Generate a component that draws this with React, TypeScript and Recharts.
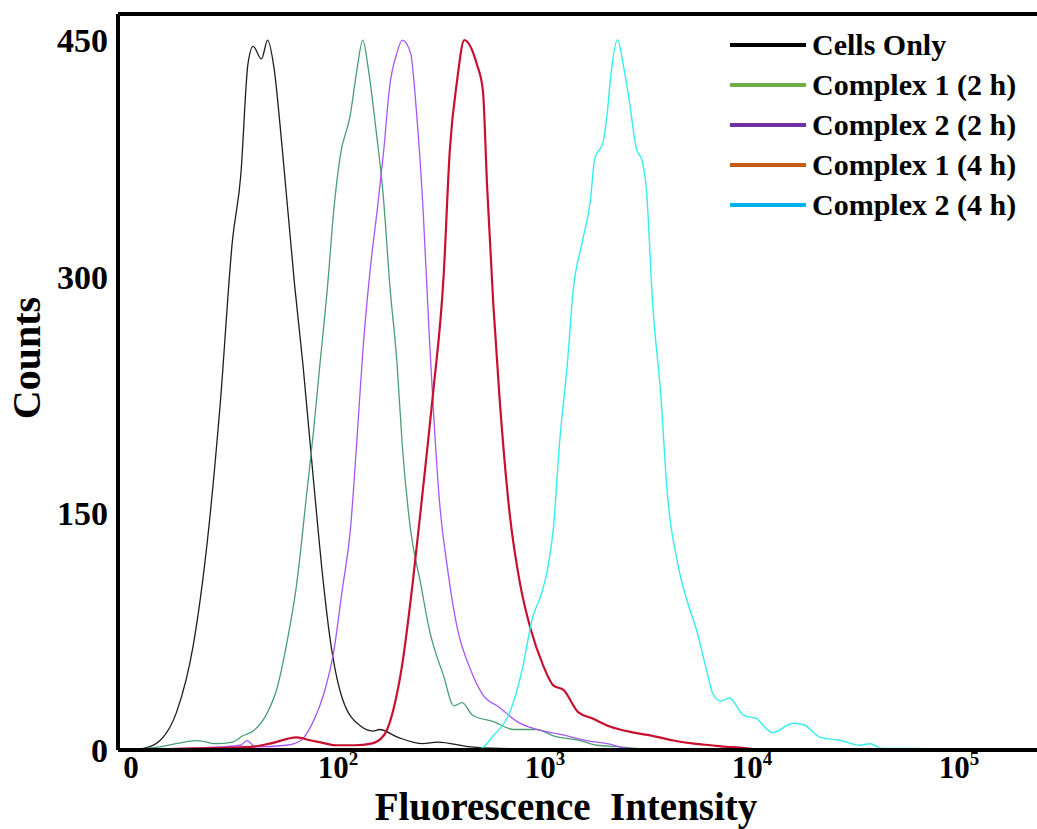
import { LineChart, Line, XAxis, YAxis, Legend, ReferenceLine } from 'recharts'

// x = position on the biexponential axis (1 = "0", 2 = 10^2, 3 = 10^3 ...), y = counts
const cellsOnly: [number, number][] = [
  [0.98, 0], [1.06, 1], [1.14, 6], [1.22, 24], [1.3, 66], [1.37, 134], [1.43, 218], [1.49, 323],
  [1.53, 364], [1.565, 435], [1.59, 446], [1.63, 438], [1.66, 450], [1.69, 433], [1.73, 382],
  [1.79, 295], [1.83, 245], [1.88, 173], [1.93, 105], [1.96, 72], [2.02, 33], [2.11, 15],
  [2.17, 12], [2.2, 13], [2.29, 8], [2.41, 4], [2.48, 5], [2.64, 2], [2.78, 1], [3.07, 0.5], [3.5, 0],
]

const complex1At2h: [number, number][] = [
  [0.98, 0], [1.14, 2], [1.32, 6], [1.41, 4], [1.49, 5], [1.54, 9], [1.59, 12], [1.66, 24],
  [1.705, 39], [1.75, 66], [1.8, 105], [1.85, 164], [1.88, 200], [1.91, 241], [1.95, 295],
  [1.98, 343], [2.01, 376], [2.06, 403], [2.09, 430], [2.12, 450], [2.145, 433], [2.18, 397],
  [2.22, 349], [2.25, 295], [2.285, 245], [2.31, 194], [2.35, 140], [2.4, 105], [2.44, 77],
  [2.51, 47], [2.56, 28], [2.6, 30], [2.65, 22], [2.75, 18], [2.85, 13], [2.96, 13], [3.04, 9],
  [3.17, 6], [3.25, 3], [3.36, 2], [3.51, 0],
]

const complex2At2h: [number, number][] = [
  [0.98, 0], [1.24, 1], [1.43, 2], [1.53, 3], [1.56, 6], [1.6, 2], [1.75, 3], [1.82, 6],
  [1.88, 18], [1.93, 35], [1.98, 63], [2.02, 101], [2.06, 140], [2.09, 194], [2.12, 253],
  [2.155, 304], [2.19, 343], [2.22, 379], [2.25, 421], [2.285, 442], [2.31, 450], [2.35, 442],
  [2.38, 403], [2.41, 345], [2.44, 265], [2.49, 158], [2.53, 114], [2.575, 78], [2.64, 51],
  [2.7, 35], [2.78, 27], [2.865, 18], [2.96, 13], [3.07, 10], [3.2, 6], [3.3, 4], [3.4, 1], [3.51, 0],
]

const complex1At4h: [number, number][] = [
  [0.98, 0], [1.33, 1], [1.58, 2], [1.67, 4], [1.8, 8], [1.87, 6], [1.91, 5], [1.99, 3],
  [2.08, 3], [2.16, 4], [2.22, 9], [2.27, 27], [2.31, 54], [2.36, 105], [2.41, 165], [2.46, 227],
  [2.51, 300], [2.54, 380], [2.575, 424], [2.61, 450], [2.67, 435], [2.7, 418], [2.72, 358],
  [2.75, 283], [2.78, 224], [2.83, 149], [2.88, 105], [2.93, 77], [2.99, 54], [3.04, 41],
  [3.09, 38], [3.16, 24], [3.23, 20], [3.31, 15], [3.43, 11], [3.52, 9], [3.62, 6], [3.72, 4],
  [3.8, 3], [3.88, 2], [3.94, 1.5], [4.01, 0.5], [4.09, 0],
]

const complex2At4h: [number, number][] = [
  [0.98, 0], [2.64, 0.5], [2.69, 1], [2.75, 9], [2.83, 24], [2.89, 51], [2.94, 84], [2.98, 98],
  [3.01, 113], [3.04, 140], [3.07, 194], [3.11, 248], [3.135, 290], [3.18, 322], [3.22, 349],
  [3.24, 375], [3.28, 385], [3.3, 403], [3.32, 430], [3.35, 450], [3.38, 433], [3.41, 409],
  [3.44, 382], [3.47, 373], [3.49, 355], [3.52, 283], [3.56, 224], [3.59, 164], [3.64, 119],
  [3.69, 93], [3.73, 77], [3.78, 51], [3.81, 36], [3.85, 31], [3.89, 33], [3.96, 22], [4.02, 20],
  [4.1, 11], [4.2, 17], [4.25, 16], [4.33, 8], [4.43, 6], [4.52, 3], [4.57, 4], [4.63, 1],
  [4.8, 1], [4.97, 0],
]

const seriesNames = ['Cells Only', 'Complex 1 (2 h)', 'Complex 2 (2 h)', 'Complex 1 (4 h)', 'Complex 2 (4 h)']
const seriesData = [cellsOnly, complex1At2h, complex2At2h, complex1At4h, complex2At4h]
const lineColors = ['#1e1e1e', '#4a9e74', '#a855f7', '#c8102e', '#33eeee']
const lineWidths = [1.3, 1.3, 1.3, 2.2, 1.4]
const legendColors = ['#000000', '#70ad47', '#7030a0', '#c55a11', '#00b0f0']

const xTicks = [1, 2, 3, 4, 5]
const xTickExponents = ['', '2', '3', '4', '5']
const yTicks = [0, 150, 300, 450]

const FONT = '"Liberation Serif", "Times New Roman", serif'

function XTick({ x, y, payload }: any) {
  const exp = xTickExponents[xTicks.indexOf(payload.value)]
  return (
    <text x={x} y={y + 28} textAnchor="middle" fontFamily={FONT} fontSize={31} fontWeight="bold" fill="#000">
      {exp ? (
        <>
          10<tspan dy={-13} fontSize={19}>{exp}</tspan>
        </>
      ) : (
        '0'
      )}
    </text>
  )
}

function LegendBox() {
  return (
    <div style={{ fontFamily: FONT, fontWeight: 'bold', fontSize: 30, color: '#000' }}>
      {seriesNames.map((name, i) => (
        <div key={name} style={{ display: 'flex', alignItems: 'center', height: 40 }}>
          <span style={{ width: 76, height: 4, background: legendColors[i], marginRight: 6 }} />
          <span style={{ whiteSpace: 'nowrap' }}>{name}</span>
        </div>
      ))}
    </div>
  )
}

export default function App() {
  return (
    <div style={{ position: 'fixed', left: 0, top: 0, width: 1037, height: 829, background: '#fff' }}>
      <LineChart width={1037} height={829} margin={{ top: 14, right: 0, bottom: 0, left: 0 }}>
        <XAxis
          type="number"
          dataKey="pos"
          domain={[0.937, 5.377]}
          ticks={xTicks}
          tick={<XTick />}
          tickLine={false}
          tickSize={0}
          tickMargin={0}
          height={79}
          axisLine={{ stroke: '#000', strokeWidth: 4 }}
          allowDataOverflow
          label={{
            content: () => (
              <text x={566} y={820} textAnchor="middle" fontFamily={FONT} fontSize={39} fontWeight="bold" fill="#000" style={{ whiteSpace: 'pre' }}>
                Fluorescence  Intensity
              </text>
            ),
          }}
        />
        <YAxis
          type="number"
          domain={[0, 466.5]}
          ticks={yTicks}
          width={118}
          tickLine={false}
          tickSize={0}
          tickMargin={10}
          tick={{ fontFamily: FONT, fontSize: 34, fontWeight: 'bold', fill: '#000' }}
          axisLine={{ stroke: '#000', strokeWidth: 4 }}
          allowDataOverflow
          label={{
            content: () => (
              <text x={40} y={358} transform="rotate(-90 40 358)" textAnchor="middle" fontFamily={FONT} fontSize={40} fontWeight="bold" fill="#000">
                Counts
              </text>
            ),
          }}
        />
        <ReferenceLine y={466.5} stroke="#000" strokeWidth={4} />
        <Legend
          layout="vertical"
          align="center"
          verticalAlign="middle"
          content={<LegendBox />}
          wrapperStyle={{ position: 'absolute', top: 25, left: 730, width: 307 }}
        />
        {seriesNames.map((name, i) => (
          <Line
            key={name}
            name={name}
            data={seriesData[i].map(([pos, count]) => ({ pos, count }))}
            dataKey="count"
            type="monotone"
            stroke={lineColors[i]}
            strokeWidth={lineWidths[i]}
            dot={false}
            activeDot={false}
            isAnimationActive={false}
          />
        ))}
      </LineChart>
    </div>
  )
}
